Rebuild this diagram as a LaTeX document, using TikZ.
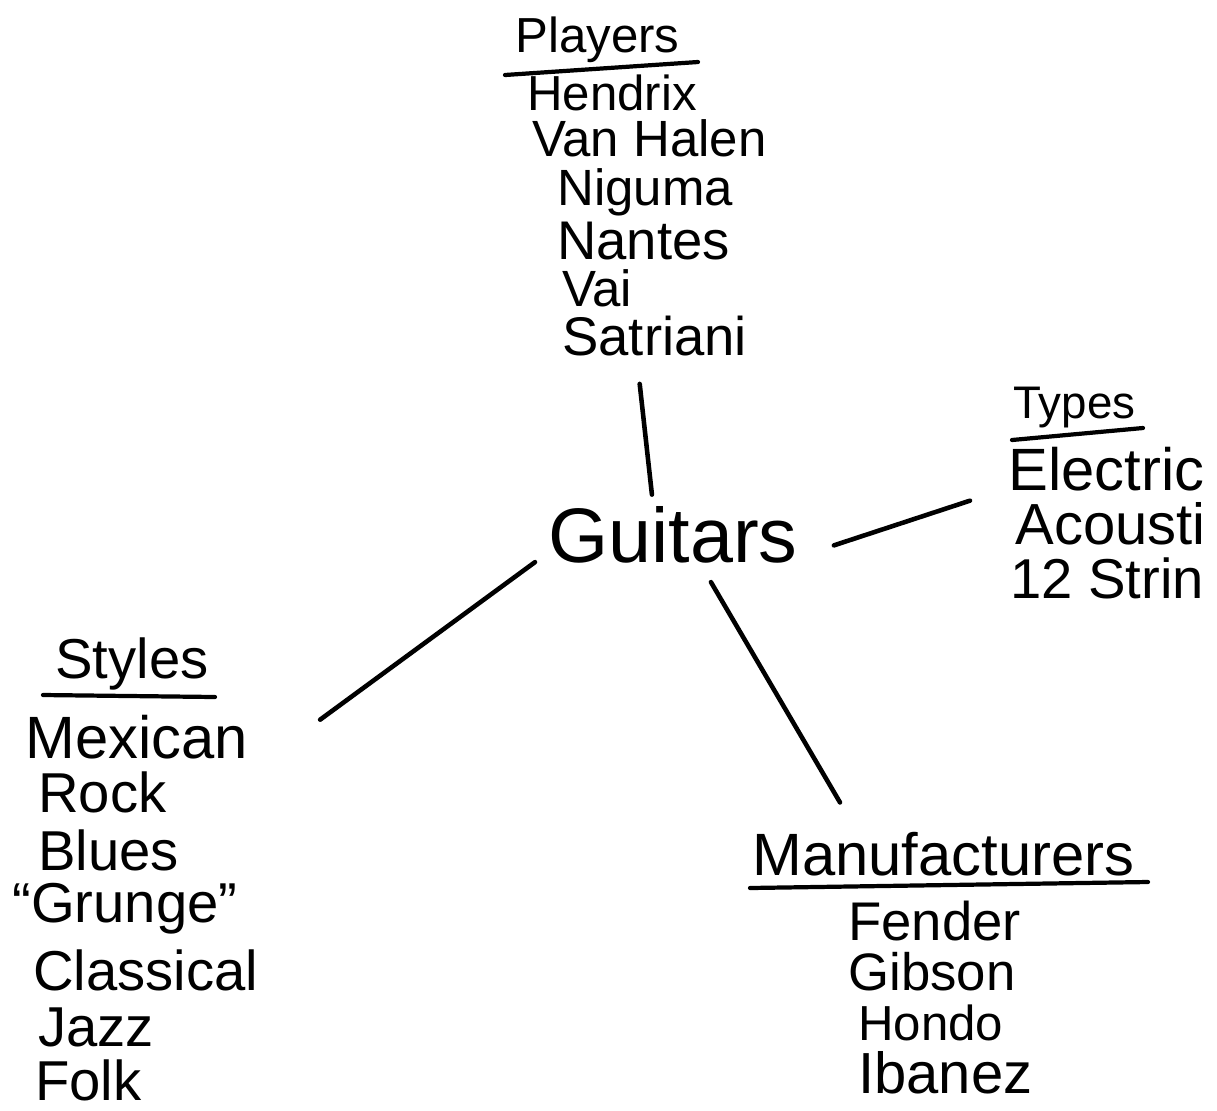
\documentclass[tikz,border=0pt]{standalone}
\usepackage{fontspec}
\setmainfont{Liberation Sans}
\usetikzlibrary{positioning,calc}

\begin{document}
\begin{tikzpicture}[x=0.02cm,y=-0.02cm]
	\tikzset{word/.style={anchor=base west,inner sep=0pt,font=\fontsize{#1}{#1}\selectfont},
		link/.style={line width=2.6pt,line cap=round},
		rule/.style={line width=2.4pt,line cap=round}}
	\useasboundingbox (0,0) rectangle (1217,1110);

	%% Centre
	\node[word=44] (guitars) at (548,562) {Guitars};

	%% Players
	\node[word=28] (players) at (515,52) {Players};
	\node[word=28] (hendrix) at (527,110) {Hendrix};
	\node[word=29] (vanhalen) at (532,156) {Van Halen};
	\node[word=29] (niguma) at (557,205) {Niguma};
	\node[word=31] (nantes) at (557,259) {Nantes};
	\node[word=29] (vai) at (562,306) {Vai};
	\node[word=31] (satriani) at (562,355) {Satriani};

	%% Types
	\node[word=26] (types) at (1013,418) {Types};
	\node[word=34] (electric) at (1008,490) {Electric};
	\node[word=33] (acoustic) at (1015,544) {Acousti};
	\node[word=32] (twelve) at (1010,598) {12 Strin};

	%% Styles
	\node[word=32] (styles) at (55,678) {Styles};
	\node[word=34] (mexican) at (25,758) {Mexican};
	\node[word=32] (rock) at (38,812) {Rock};
	\node[word=32] (blues) at (38,870) {Blues};
	\node[word=32] (grunge) at (12,922) {``Grunge''};
	\node[word=32] (classical) at (33,990) {Classical};
	\node[word=32] (jazz) at (38,1046) {Jazz};
	\node[word=32] (folk) at (35,1100) {Folk};

	%% Manufacturers
	\node[word=34] (manufacturers) at (752,875) {Manufacturers};
	\node[word=31] (fender) at (848,940) {Fender};
	\node[word=30] (gibson) at (848,990) {Gibson};
	\node[word=28] (hondo) at (858,1040) {Hondo};
	\node[word=33] (ibanez) at (858,1093) {Ibanez};

	%% underlines
	\draw[rule] ($(players.base west)+(-10,23)$) -- ($(players.base west)+(183,10)$);
	\draw[rule] ($(types.base west)+(-1,22)$) -- ($(types.base west)+(130,10)$);
	\draw[rule] ($(styles.base west)+(-12,17)$) -- ($(styles.base west)+(160,19)$);
	\draw[rule] ($(manufacturers.base west)+(-2,13)$) -- ($(manufacturers.base west)+(396,7)$);

	%% links
	\draw[link] ($(satriani.south)+(-15,28)$) -- ($(guitars.north)+(-21,-11)$);
	\draw[link] ($(guitars.east)+(36,11)$) -- ($(electric.west)+(-38,32)$);
	\draw[link] ($(guitars.south west)+(-13,-1)$) -- ($(mexican.east)+(72,-17)$);
	\draw[link] ($(guitars.south)+(38,19)$) -- ($(manufacturers.north west)+(88,-29)$);
\end{tikzpicture}
\end{document}
